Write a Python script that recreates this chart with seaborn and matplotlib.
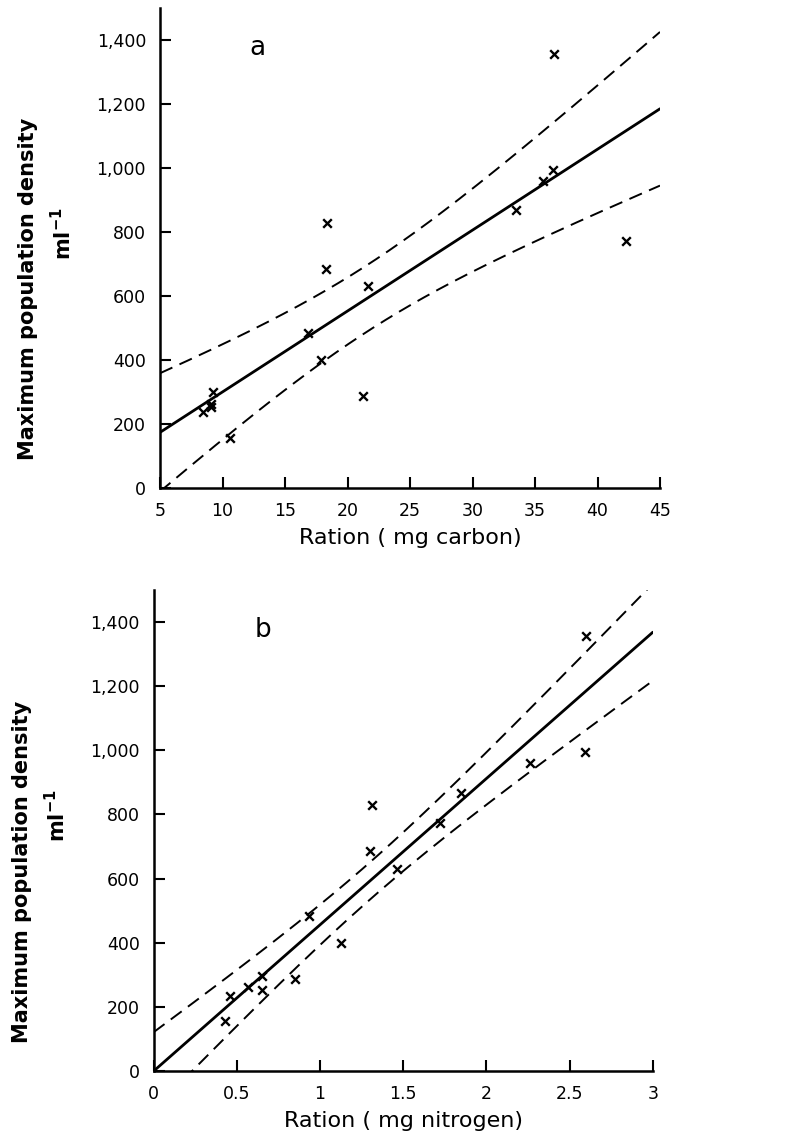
import numpy as np
import pandas as pd
import seaborn as sns
import matplotlib.pyplot as plt
from matplotlib.ticker import FixedLocator

# one density per culture, plotted against carbon (a) and nitrogen (b) ration
carbon = [10.56, 8.45, 9.10, 9.25, 9.05, 21.27, 16.83, 17.88, 18.30, 18.36, 21.60, 33.50, 35.60, 36.40, 36.50, 42.30]
nitrogen = [0.43, 0.46, 0.654, 0.65, 0.566, 0.85, 0.934, 1.127, 1.30, 1.31, 1.465, 1.85, 2.26, 2.59, 2.60, 1.72]
density = [156, 235, 252, 298, 262, 288, 484, 400, 685, 829, 630, 868, 960, 994, 1355, 772]

y_ticks = [0, 200, 400, 600, 800, 1000, 1200, 1400]
y_tick_labels = ["0", "200", "400", "600", "800", "1,000", "1,200", "1,400"]
carbon_ticks = [5, 10, 15, 20, 25, 30, 35, 40, 45]
nitrogen_ticks = [0, 0.5, 1, 1.5, 2, 2.5, 3]
nitrogen_tick_labels = ["0", "0.5", "1", "1.5", "2", "2.5", "3"]

T_95 = 2.145  # two-sided t, 14 degrees of freedom

df = pd.DataFrame({"carbon": carbon, "nitrogen": nitrogen, "density": density})

sns.set_theme(style="ticks", rc={
    "axes.edgecolor": "black",
    "axes.labelcolor": "black",
    "text.color": "black",
    "xtick.color": "black",
    "ytick.color": "black",
})
plt.rcParams["font.family"] = ["DejaVu Sans"]


def confidence_band(x, y, grid):
    x = np.asarray(x, dtype=float)
    y = np.asarray(y, dtype=float)
    slope, intercept = np.polyfit(x, y, 1)
    resid = y - (intercept + slope * x)
    s = np.sqrt(np.sum(resid ** 2) / (len(x) - 2))
    sxx = np.sum((x - x.mean()) ** 2)
    fit = intercept + slope * grid
    half = T_95 * s * np.sqrt(1 / len(x) + (grid - x.mean()) ** 2 / sxx)
    return fit - half, fit + half


def draw_panel(ax, xcol, xlim, xticks, xticklabels, xlabel, letter, letter_x):
    ax.set_xlim(*xlim)
    ax.set_ylim(0, 1500)
    sns.regplot(data=df, x=xcol, y="density", ax=ax, ci=None, truncate=False,
                marker="x", color="black",
                scatter_kws={"s": 38, "linewidths": 1.7, "alpha": 1},
                line_kws={"linewidth": 2.0})

    grid = np.linspace(xlim[0], xlim[1], 200)
    lower, upper = confidence_band(df[xcol], df["density"], grid)
    for band in (lower, upper):
        ax.plot(grid, band, color="black", linewidth=1.4, linestyle=(0, (7, 4)))

    ax.set_xlim(*xlim)
    ax.set_ylim(0, 1500)
    ax.xaxis.set_major_locator(FixedLocator(xticks))
    ax.set_xticklabels(xticklabels)
    ax.yaxis.set_major_locator(FixedLocator(y_ticks))
    ax.set_yticklabels(y_tick_labels)
    ax.tick_params(direction="in", length=8, width=1.5, labelsize=12.5, pad=10)
    for side in ["top", "right"]:
        ax.spines[side].set_visible(False)
    for side in ["left", "bottom"]:
        ax.spines[side].set_linewidth(1.8)

    ax.set_xlabel(xlabel, fontsize=16, labelpad=6)
    ax.set_ylabel("Maximum population density", fontsize=15, fontweight="bold")
    ax.yaxis.set_label_coords(-0.243, 0.415)
    ax.text(-0.195, 0.53, "ml$^{\\mathbf{-1}}$", transform=ax.transAxes,
            rotation=90, fontsize=15, fontweight="bold", ha="center", va="center")
    ax.text(letter_x, 1375, letter, fontsize=19, ha="center", va="center")


fig = plt.figure(figsize=(8, 11.42), dpi=100)
ax_a = fig.add_axes([0.200, 0.573, 0.625, 0.420])
ax_b = fig.add_axes([0.192, 0.062, 0.624, 0.4216])

draw_panel(ax_a, "carbon", (5, 45), carbon_ticks, [str(t) for t in carbon_ticks],
           "Ration ( mg carbon)", "a", 12.8)
draw_panel(ax_b, "nitrogen", (0, 3), nitrogen_ticks, nitrogen_tick_labels,
           "Ration ( mg nitrogen)", "b", 0.66)

fig.savefig("out.png", dpi=100)
plt.close(fig)
